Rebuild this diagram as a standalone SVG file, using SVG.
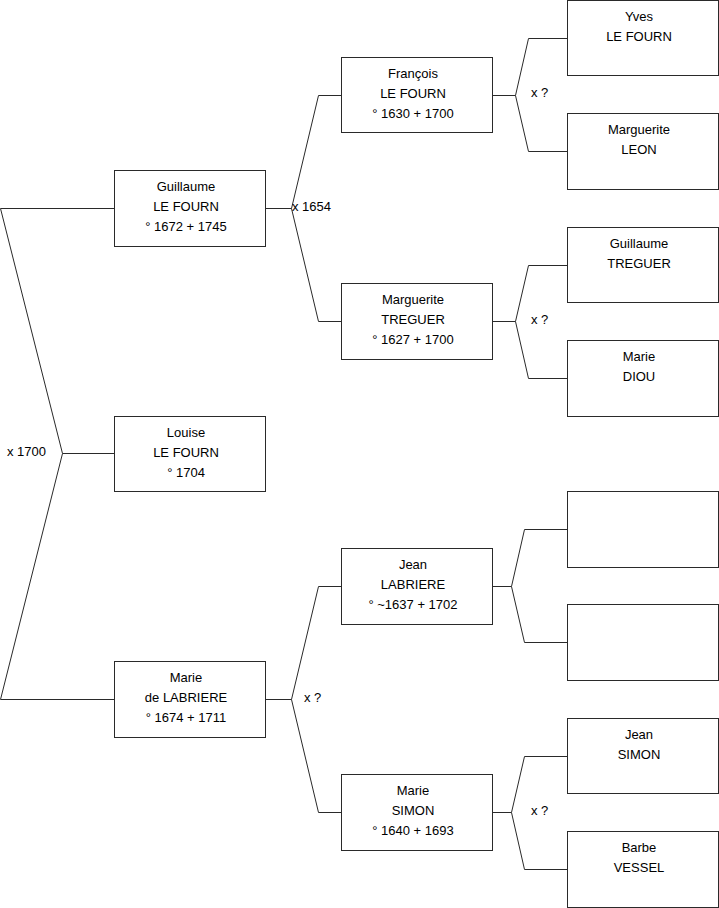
<svg xmlns="http://www.w3.org/2000/svg" width="719" height="908" viewBox="0 0 719 908">
<style>
.box{fill:#fff;stroke:#2a2a2a;stroke-width:1}
.c{fill:none;stroke:#2a2a2a;stroke-width:1}
text{font-family:"Liberation Sans",Arial,sans-serif;font-size:13px;fill:#000}
.t{text-anchor:middle}
</style>
<rect width="719" height="908" fill="#fff"/>
<g id="connectors">
<path class="c" d="M0.5,208.5 H114.5 M0.5,208.5 L62.5,453.5 L0.5,699.5 H114.5 M62.5,453.5 H114.5"/>
<path class="c" d="M265.5,208.5 H291.5 L318.5,95.5 H341.5 M291.5,208.5 L318.5,321.5 H341.5"/>
<path class="c" d="M492.5,95.5 H515.5 L528.5,38.5 H567.5 M515.5,95.5 L528.5,151.5 H567.5"/>
<path class="c" d="M492.5,321.5 H515.5 L528.5,265.5 H567.5 M515.5,321.5 L528.5,378.5 H567.5"/>
<path class="c" d="M265.5,699.5 H291.5 L318.5,586.5 H341.5 M291.5,699.5 L318.5,812.5 H341.5"/>
<path class="c" d="M492.5,586.5 H511.5 L524.5,529.5 H567.5 M511.5,586.5 L524.5,642.5 H567.5"/>
<path class="c" d="M492.5,812.5 H511.5 L524.5,756.5 H567.5 M511.5,812.5 L524.5,869.5 H567.5"/>
<text x="7" y="456">x 1700</text>
<text x="292" y="211">x 1654</text>
<text x="531" y="97">x ?</text>
<text x="531" y="324">x ?</text>
<text x="304" y="702">x ?</text>
<text x="531" y="815">x ?</text>
</g>
<g id="guillaume_le_fourn"><rect class="box" x="114.5" y="170.5" width="151" height="76"/>
<text class="t" x="186" y="191">Guillaume</text><text class="t" x="186" y="211">LE FOURN</text><text class="t" x="186" y="231">° 1672 + 1745</text></g>
<g id="louise_le_fourn"><rect class="box" x="114.5" y="416.5" width="151" height="75"/>
<text class="t" x="186" y="437">Louise</text><text class="t" x="186" y="457">LE FOURN</text><text class="t" x="186" y="477">° 1704</text></g>
<g id="marie_de_labriere"><rect class="box" x="114.5" y="661.5" width="151" height="76"/>
<text class="t" x="186" y="682">Marie</text><text class="t" x="186" y="702">de LABRIERE</text><text class="t" x="186" y="722">° 1674 + 1711</text></g>
<g id="francois_le_fourn"><rect class="box" x="341.5" y="57.5" width="151" height="75"/>
<text class="t" x="413" y="78">François</text><text class="t" x="413" y="98">LE FOURN</text><text class="t" x="413" y="118">° 1630 + 1700</text></g>
<g id="marguerite_treguer"><rect class="box" x="341.5" y="283.5" width="151" height="76"/>
<text class="t" x="413" y="304">Marguerite</text><text class="t" x="413" y="324">TREGUER</text><text class="t" x="413" y="344">° 1627 + 1700</text></g>
<g id="jean_labriere"><rect class="box" x="341.5" y="548.5" width="151" height="76"/>
<text class="t" x="413" y="569">Jean</text><text class="t" x="413" y="589">LABRIERE</text><text class="t" x="413" y="609">° ~1637 + 1702</text></g>
<g id="marie_simon"><rect class="box" x="341.5" y="774.5" width="151" height="76"/>
<text class="t" x="413" y="795">Marie</text><text class="t" x="413" y="815">SIMON</text><text class="t" x="413" y="835">° 1640 + 1693</text></g>
<g id="yves_le_fourn"><rect class="box" x="567.5" y="0.5" width="151" height="75"/>
<text class="t" x="639" y="21">Yves</text><text class="t" x="639" y="41">LE FOURN</text></g>
<g id="marguerite_leon"><rect class="box" x="567.5" y="113.5" width="151" height="76"/>
<text class="t" x="639" y="134">Marguerite</text><text class="t" x="639" y="154">LEON</text></g>
<g id="guillaume_treguer"><rect class="box" x="567.5" y="227.5" width="151" height="75"/>
<text class="t" x="639" y="248">Guillaume</text><text class="t" x="639" y="268">TREGUER</text></g>
<g id="marie_diou"><rect class="box" x="567.5" y="340.5" width="151" height="76"/>
<text class="t" x="639" y="361">Marie</text><text class="t" x="639" y="381">DIOU</text></g>
<g id="unknown_1"><rect class="box" x="567.5" y="491.5" width="151" height="76"/></g>
<g id="unknown_2"><rect class="box" x="567.5" y="604.5" width="151" height="76"/></g>
<g id="jean_simon"><rect class="box" x="567.5" y="718.5" width="151" height="75"/>
<text class="t" x="639" y="739">Jean</text><text class="t" x="639" y="759">SIMON</text></g>
<g id="barbe_vessel"><rect class="box" x="567.5" y="831.5" width="151" height="76"/>
<text class="t" x="639" y="852">Barbe</text><text class="t" x="639" y="872">VESSEL</text></g>
</svg>
